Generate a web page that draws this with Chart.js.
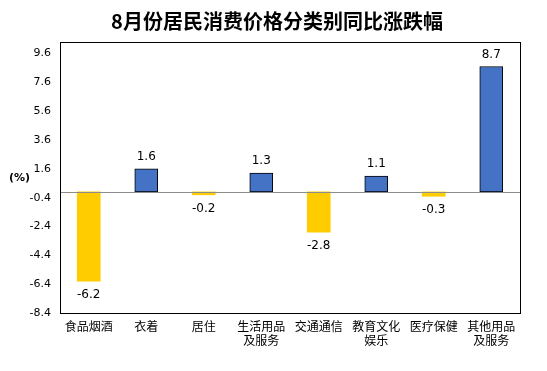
<!DOCTYPE html>
<html>
<head>
<meta charset="utf-8">
<script src="https://cdn.jsdelivr.net/npm/chart.js@4"></script>
<style>
  html, body { margin: 0; padding: 0; background: #fff; }
  #wrap { width: 547px; height: 371px; position: relative; }
</style>
</head>
<body>
<div id="wrap"><canvas id="cpiChart"></canvas></div>
<script>
// 8月份居民消费价格分类别同比涨跌幅
const titleText = '8月份居民消费价格分类别同比涨跌幅';
const categories = [
    '食品烟酒', '衣着', '居住', ['生活用品', '及服务'],
    '交通通信', ['教育文化', '娱乐'], '医疗保健', ['其他用品', '及服务']
];
const changes = [-6.2, 1.6, -0.2, 1.3, -2.8, 1.1, -0.3, 8.7];
const yTicks = [-8.4, -6.4, -4.4, -2.4, -0.4, 1.6, 3.6, 5.6, 7.6, 9.6];

const cjkFont = '"Noto Sans CJK SC", "Noto Sans", sans-serif';
const numFont = '"DejaVu Sans", Verdana, sans-serif';

// 标题、边框、零线、数值标签
const decorPlugin = {
    id: 'decor',
    afterDraw: (chart) => {
        const { ctx, chartArea: a, scales } = chart;
        ctx.save();
        // title
        ctx.font = 'bold 20px ' + cjkFont;
        ctx.fillStyle = '#000';
        ctx.textAlign = 'center';
        ctx.textBaseline = 'middle';
        ctx.fillText(titleText, 277, 21);
        // (%) unit
        ctx.font = 'bold 11px ' + numFont;
        ctx.textAlign = 'left';
        ctx.fillText('(%)', 9, 178);
        // zero line
        const y0 = Math.round(scales.y.getPixelForValue(0)) + 0.5;
        ctx.strokeStyle = '#8c8c8c';
        ctx.lineWidth = 1;
        ctx.beginPath();
        ctx.moveTo(a.left, y0);
        ctx.lineTo(a.right, y0);
        ctx.stroke();
        // border box
        ctx.strokeStyle = '#000';
        ctx.strokeRect(Math.round(a.left) + 0.5, Math.round(a.top) + 0.5,
            Math.round(a.right - a.left), Math.round(a.bottom - a.top));
        // value labels
        const meta = chart.getDatasetMeta(0);
        ctx.font = '12px ' + numFont;
        ctx.textAlign = 'center';
        meta.data.forEach((bar, i) => {
            const v = changes[i];
            if (v >= 0) {
                ctx.textBaseline = 'bottom';
                ctx.fillText(v.toFixed(1), bar.x, bar.y - 6);
            } else {
                ctx.textBaseline = 'top';
                ctx.fillText(v.toFixed(1), bar.x, bar.y + 8);
            }
        });
        ctx.restore();
    }
};

new Chart(document.getElementById('cpiChart').getContext('2d'), {
    type: 'bar',
    data: {
        labels: categories,
        datasets: [{
            data: changes,
            backgroundColor: changes.map(v => v >= 0 ? '#4472C4' : '#FFCC00'),
            borderColor: changes.map(v => v >= 0 ? '#000' : 'rgba(0,0,0,0)'),
            borderWidth: changes.map(v => v >= 0 ? 1 : 0),
            borderSkipped: false,
            barThickness: 23
        }]
    },
    options: {
        responsive: true, maintainAspectRatio: false, animation: false,
        layout: { padding: { top: 42, right: 27, left: 0, bottom: 0 } },
        plugins: { legend: { display: false }, tooltip: { enabled: false } },
        scales: {
            x: {
                grid: { display: false, drawTicks: false },
                border: { display: false },
                ticks: { color: '#000', font: { family: cjkFont, size: 12 }, padding: 6, maxRotation: 0, autoSkip: false },
                afterFit: (s) => { s.height = 58; }
            },
            y: {
                min: -8.4, max: 10.4,
                afterBuildTicks: (s) => { s.ticks = yTicks.map(v => ({ value: v })); },
                grid: { display: false, drawTicks: false },
                border: { display: false },
                ticks: { color: '#000', font: { family: numFont, size: 11 }, padding: 9, callback: (v) => v.toFixed(1) },
                afterFit: (s) => { s.width = 60; }
            }
        }
    },
    plugins: [decorPlugin]
});
</script>
</body>
</html>
